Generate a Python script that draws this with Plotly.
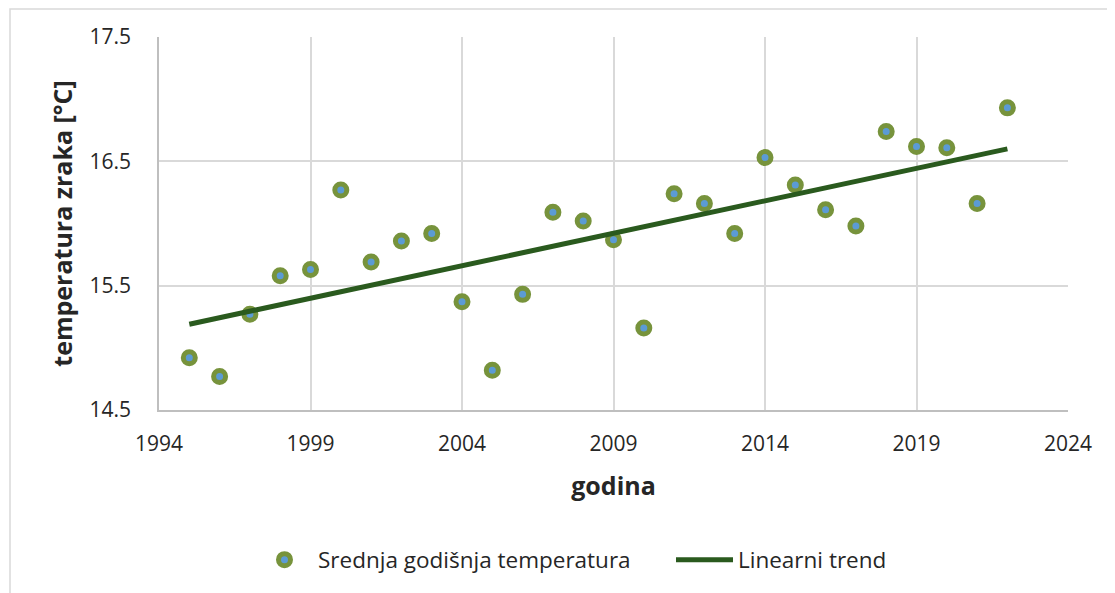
import plotly.graph_objects as go

years = list(range(1995, 2023))
temps = [14.92, 14.77, 15.27, 15.58, 15.63, 16.27, 15.69, 15.86, 15.92, 15.37,
         14.82, 15.43, 16.09, 16.02, 15.87, 15.16, 16.24, 16.16, 15.92, 16.53,
         16.31, 16.11, 15.98, 16.74, 16.62, 16.61, 16.16, 16.93]
trend_years = [1995, 2022]
trend_values = [15.19, 16.60]
x_ticks = [1994, 1999, 2004, 2009, 2014, 2019, 2024]
y_ticks = [14.5, 15.5, 16.5, 17.5]

FONT = "Open Sans"
GRID = "#d9d9d9"
OFF = 8  # page body margin
W, H = 1115 - OFF, 593 - OFF
L, R, T, B = 159 - OFF, 1068 - OFF, 37 - OFF, 410 - OFF
PW, PH = R - L, B - T

fig = go.Figure()
fig.add_trace(go.Scatter(
    x=years, y=temps, mode="markers", name="Srednja godišnja temperatura",
    marker=dict(size=12, color="#5B9BD5", line=dict(color="#77933C", width=5)),
))
fig.add_trace(go.Scatter(
    x=trend_years, y=trend_values, mode="lines", name="Linearni trend",
    line=dict(color="#2A5A1E", width=5),
))

fig.update_layout(
    width=W, height=H,
    margin=dict(l=L, r=W - R, t=T, b=H - B, autoexpand=False),
    paper_bgcolor="white", plot_bgcolor="white",
    font=dict(family=FONT, size=21, color="#262626"),
    showlegend=True,
    legend=dict(orientation="h", x=(251 - OFF - L) / PW, xanchor="left",
                y=-(560 - OFF - B) / PH, yanchor="middle",
                font=dict(size=22.5, family=FONT, color="#262626"),
                itemwidth=57,
                entrywidth=348, entrywidthmode="pixels",
                traceorder="normal"),
    xaxis=dict(range=[1994, 2024], tickvals=x_ticks, showgrid=True, gridcolor=GRID,
               gridwidth=1.5, zeroline=False, showline=True, linecolor="#bfbfbf",
               linewidth=1.5, ticks="", tickfont=dict(size=21), automargin=False,
               ticklabelstandoff=14,
               title=dict(text="<b>godina</b>", font=dict(size=25), standoff=22)),
    yaxis=dict(range=[14.5, 17.5], tickvals=y_ticks, tickformat=".1f", showgrid=True,
               gridcolor=GRID, gridwidth=1.5, zeroline=False, showline=True,
               linecolor="#bfbfbf", linewidth=1.5, ticks="", tickfont=dict(size=21),
               automargin=False, ticklabelstandoff=22,
               title=dict(text="<b>temperatura zraka [°C]</b>", font=dict(size=25),
                          standoff=10)),
    shapes=[dict(type="rect", xref="paper", yref="paper",
                 x0=(10 - OFF - L) / PW, x1=(1130 - OFF - L) / PW,
                 y0=-(610 - OFF - B) / PH, y1=(B - 1) / PH,
                 line=dict(color="#d9d9d9", width=1.5), layer="below")],
)

fig.write_html("out.html")
